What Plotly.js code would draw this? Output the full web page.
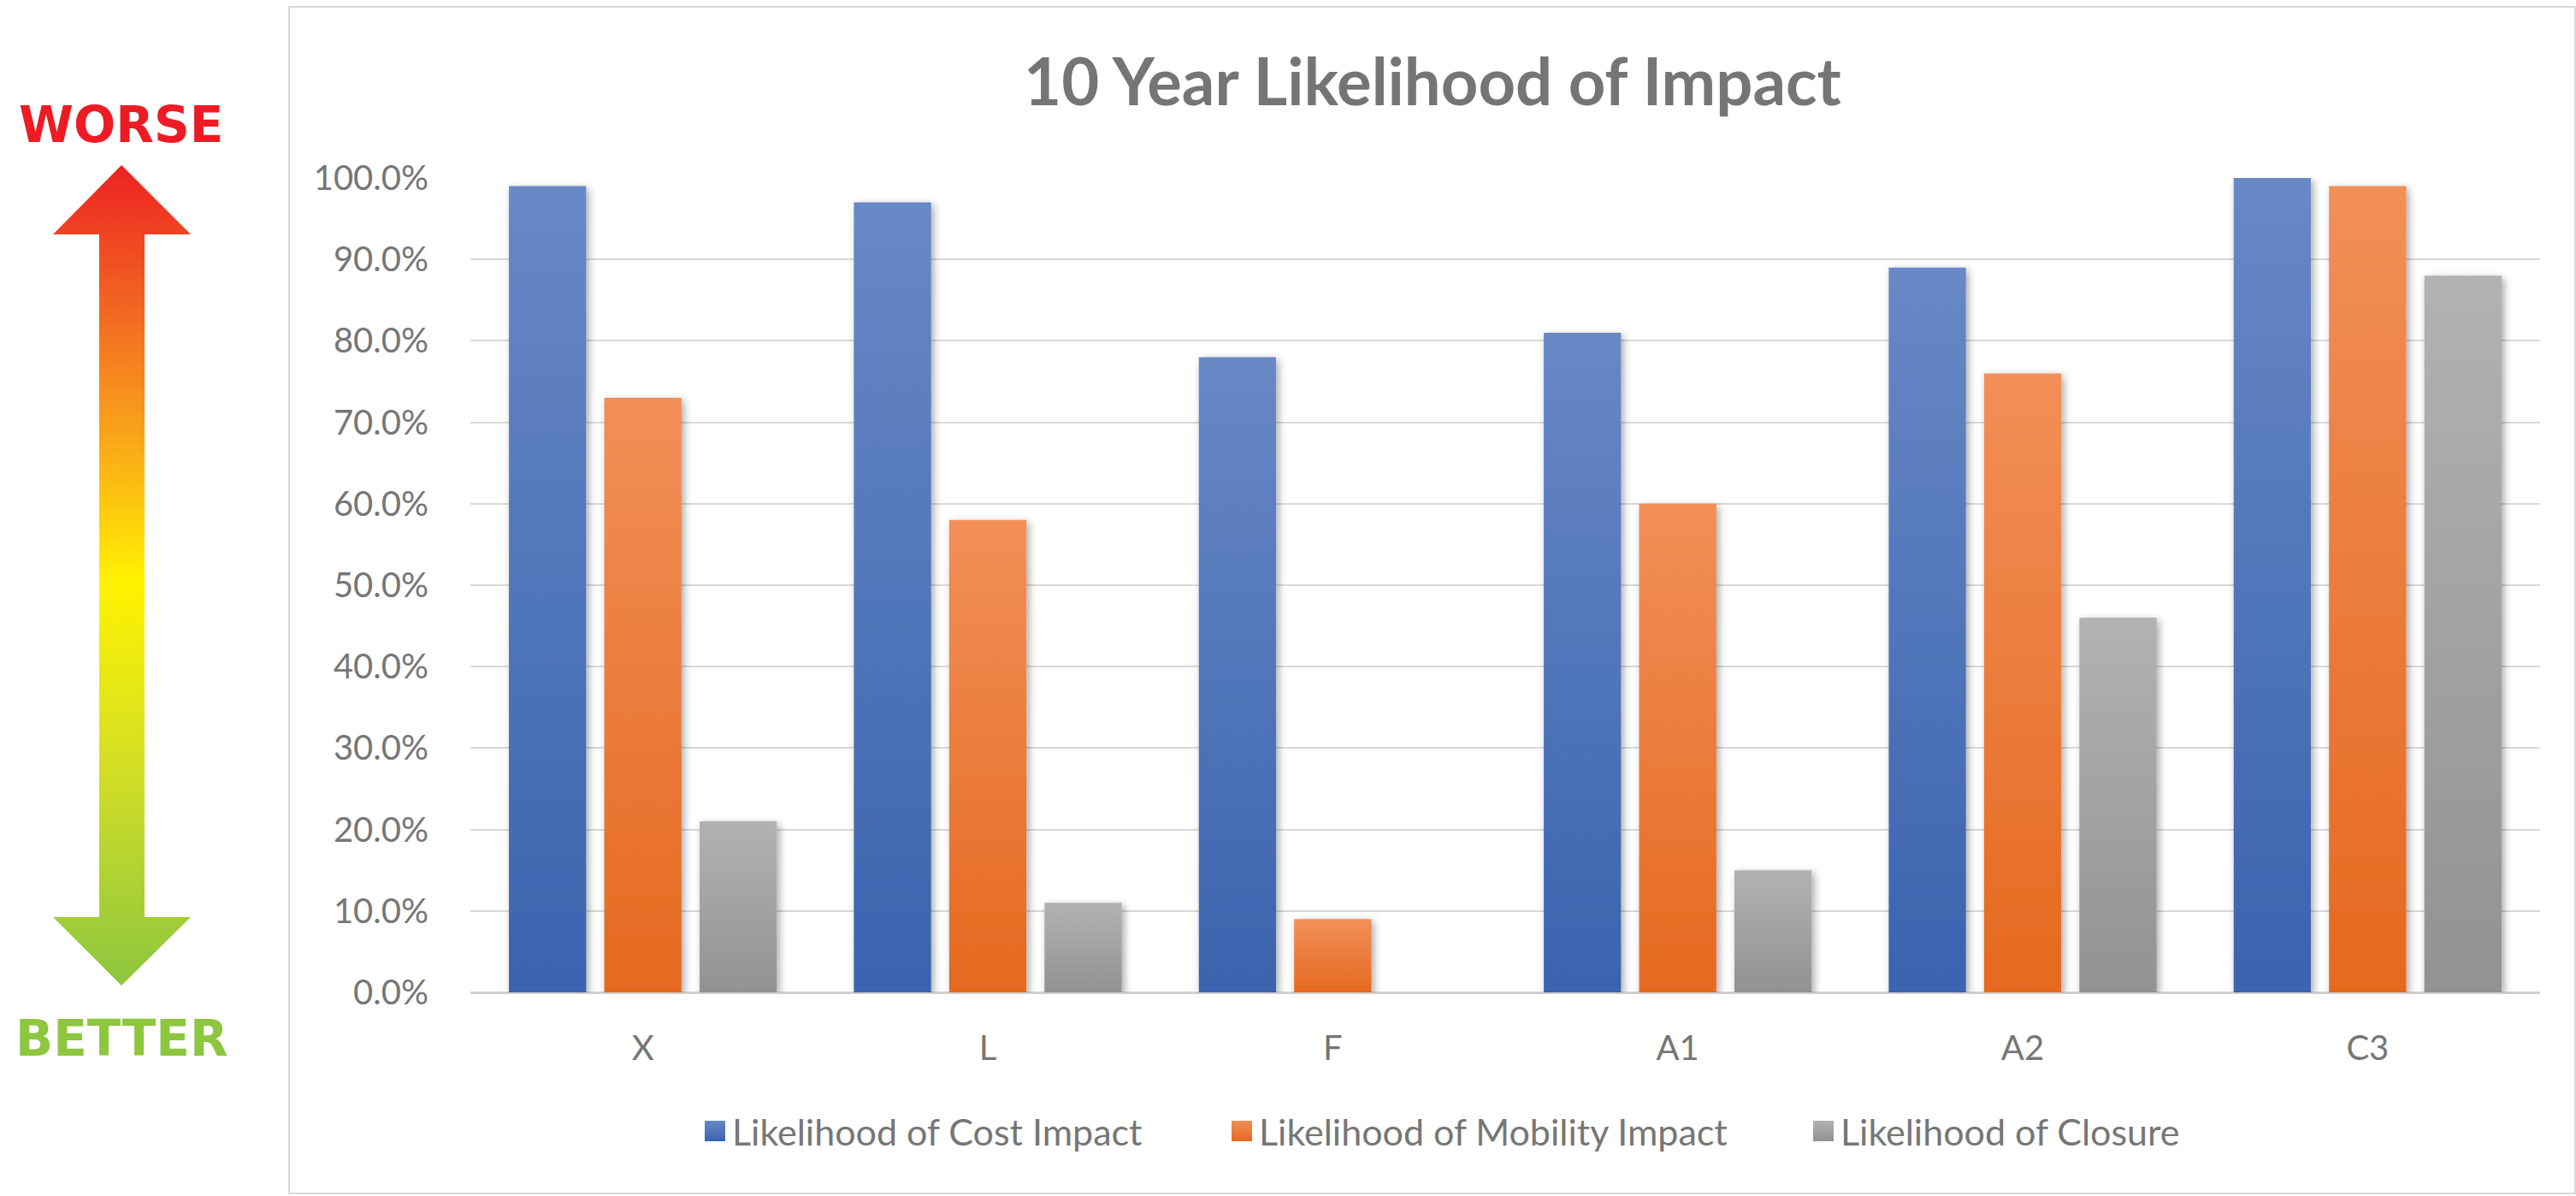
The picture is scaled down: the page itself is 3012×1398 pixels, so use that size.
<!DOCTYPE html>
<html>
<head>
<meta charset="utf-8">
<script src="https://cdn.plot.ly/plotly-3.0.1.min.js"></script>
<style>
  html, body { margin: 0; padding: 0; background: #ffffff; }
  #chart { width: 3012px; height: 1398px; }
</style>
</head>
<body>
<div id="chart"></div>
<script>
// ---- Data ----
const categories = ['X', 'L', 'F', 'A1', 'A2', 'C3'];
const seriesNames = ['Likelihood of Cost Impact', 'Likelihood of Mobility Impact', 'Likelihood of Closure'];
const costImpact = [0.99, 0.97, 0.78, 0.81, 0.89, 1.00];
const mobilityImpact = [0.73, 0.58, 0.09, 0.60, 0.76, 0.99];
const closure = [0.21, 0.11, 0.00, 0.15, 0.46, 0.88];
const yTickValues = [0, 0.1, 0.2, 0.3, 0.4, 0.5, 0.6, 0.7, 0.8, 0.9, 1.0];
const chartTitle = '10 Year Likelihood of Impact';
const scaleTop = 'WORSE';
const scaleBottom = 'BETTER';

// ---- Styling ----
const W = 3012, H = 1398;
const M = { l: 550, r: 42, t: 208, b: 238 };
const plotW = W - M.l - M.r, plotH = H - M.t - M.b;
const px2x = p => (p - M.l) / plotW;
const px2y = p => (H - M.b - p) / plotH;
const textGray = '#767676';
const baseFont = 'Lato, "Open Sans", sans-serif';
const solid = ['#5575ba', '#ee7b3a', '#a2a2a2'];
const grads = [
  ['#6888c6', '#3a63ae'],
  ['#f28f58', '#e5691f'],
  ['#b2b2b2', '#929292']
];
const legendIds = ['legend', 'legend2', 'legend3'];
const legendMarkerCenters = [836, 1452, 2132];

const seriesValues = [costImpact, mobilityImpact, closure];
const traces = seriesValues.map((vals, i) => ({
  type: 'bar',
  name: seriesNames[i],
  x: categories,
  y: vals,
  legend: legendIds[i],
  marker: { color: solid[i], line: { width: 0 } },
  hoverinfo: 'skip'
}));

// Arrow drawn as an SVG decoration (gradient), placed over the left margin
const arrowSvg =
  '<svg xmlns="http://www.w3.org/2000/svg" width="' + W + '" height="' + H + '" viewBox="0 0 ' + W + ' ' + H + '">' +
  '<defs><linearGradient id="ag" x1="0" y1="193" x2="0" y2="1152" gradientUnits="userSpaceOnUse">' +
  '<stop offset="0" stop-color="#ed2224"/>' +
  '<stop offset="0.2" stop-color="#f37021"/>' +
  '<stop offset="0.36" stop-color="#fbb117"/>' +
  '<stop offset="0.51" stop-color="#fff200"/>' +
  '<stop offset="0.74" stop-color="#d2de26"/>' +
  '<stop offset="1" stop-color="#8cc63f"/>' +
  '</linearGradient></defs>' +
  '<path d="M142 193 L223 274 L169 274 L169 1072 L223 1072 L142 1152 L62 1072 L116 1072 L116 274 L62 274 Z" fill="url(#ag)"/>' +
  '</svg>';
const arrowSrc = 'data:image/svg+xml;charset=utf-8,' + encodeURIComponent(arrowSvg);

function legendCfg(i) {
  return {
    orientation: 'h',
    x: px2x(legendMarkerCenters[i] - 20), xanchor: 'left',
    y: px2y(1322), yanchor: 'middle',
    font: { family: baseFont, size: 43, color: textGray },
    bgcolor: 'rgba(0,0,0,0)',
    borderwidth: 0
  };
}

const layout = {
  width: W,
  height: H,
  margin: M,
  paper_bgcolor: '#ffffff',
  plot_bgcolor: '#ffffff',
  font: { family: baseFont, color: textGray, size: 40 },
  title: {
    text: '<b>' + chartTitle + '</b>',
    font: { family: baseFont, size: 76, color: '#757575' },
    xref: 'paper', x: px2x(1675), xanchor: 'center',
    yref: 'container', y: 1 - 96 / H, yanchor: 'middle'
  },
  barmode: 'group',
  bargap: 0.171,
  bargroupgap: 0.19,
  showlegend: true,
  legend: legendCfg(0),
  legend2: legendCfg(1),
  legend3: legendCfg(2),
  xaxis: {
    type: 'category',
    showgrid: false,
    showline: false,
    zeroline: false,
    ticks: 'outside',
    ticklen: 30,
    tickcolor: 'rgba(0,0,0,0)',
    tickfont: { family: baseFont, size: 40, color: textGray },
    fixedrange: true
  },
  yaxis: {
    range: [0, 1],
    tickvals: yTickValues,
    tickformat: '.1%',
    showgrid: true,
    gridcolor: '#d9d9d9',
    gridwidth: 2,
    zeroline: true,
    zerolinecolor: '#d0d0d0',
    zerolinewidth: 3,
    showline: false,
    ticks: 'outside',
    ticklen: 40,
    tickcolor: 'rgba(0,0,0,0)',
    tickfont: { family: baseFont, size: 40, color: textGray },
    fixedrange: true
  },
  shapes: [
    {
      type: 'rect', xref: 'paper', yref: 'paper',
      x0: px2x(338), x1: px2x(3011), y0: px2y(1395), y1: px2y(8),
      line: { color: '#d9d9d9', width: 2 }, fillcolor: 'rgba(0,0,0,0)', layer: 'below'
    }
  ],
  images: [
    {
      source: arrowSrc,
      xref: 'paper', yref: 'paper',
      x: px2x(0), y: px2y(0),
      sizex: W / plotW, sizey: H / plotH,
      xanchor: 'left', yanchor: 'top',
      sizing: 'stretch', layer: 'above'
    }
  ],
  annotations: [
    {
      text: '<b>' + scaleTop + '</b>', xref: 'paper', yref: 'paper',
      x: px2x(141), y: px2y(146), xanchor: 'center', yanchor: 'middle',
      showarrow: false, font: { family: '"DejaVu Sans", sans-serif', size: 58, color: '#ed1c24' }
    },
    {
      text: '<b>' + scaleBottom + '</b>', xref: 'paper', yref: 'paper',
      x: px2x(142), y: px2y(1214), xanchor: 'center', yanchor: 'middle',
      showarrow: false, font: { family: '"DejaVu Sans", sans-serif', size: 58, color: '#8dc63f' }
    }
  ]
};

Plotly.newPlot('chart', traces, layout, { staticPlot: true, displayModeBar: false }).then(gd => {
  // Give the bars the vertical gradient and soft shadow of the original
  const NS = 'http://www.w3.org/2000/svg';
  const svg = gd.querySelector('svg.main-svg');
  let defs = svg.querySelector('defs');
  if (!defs) { defs = document.createElementNS(NS, 'defs'); svg.insertBefore(defs, svg.firstChild); }
  grads.forEach((g, i) => {
    const lg = document.createElementNS(NS, 'linearGradient');
    lg.setAttribute('id', 'barg' + i);
    lg.setAttribute('x1', '0'); lg.setAttribute('y1', '0');
    lg.setAttribute('x2', '0'); lg.setAttribute('y2', '1');
    [[0, g[0]], [1, g[1]]].forEach(([o, c]) => {
      const s = document.createElementNS(NS, 'stop');
      s.setAttribute('offset', o); s.setAttribute('stop-color', c);
      lg.appendChild(s);
    });
    defs.appendChild(lg);
  });
  const f = document.createElementNS(NS, 'filter');
  f.setAttribute('id', 'barshadow');
  f.setAttribute('x', '-30%'); f.setAttribute('y', '-10%');
  f.setAttribute('width', '160%'); f.setAttribute('height', '120%');
  const ds = document.createElementNS(NS, 'feDropShadow');
  ds.setAttribute('dx', '3'); ds.setAttribute('dy', '3');
  ds.setAttribute('stdDeviation', '5');
  ds.setAttribute('flood-color', '#000'); ds.setAttribute('flood-opacity', '0.35');
  f.appendChild(ds);
  defs.appendChild(f);

  gd.querySelectorAll('.barlayer .trace').forEach((t, i) => {
    t.querySelectorAll('path').forEach(p => {
      p.style.fill = 'url(#barg' + i + ')';
      p.style.filter = 'url(#barshadow)';
    });
  });
  // legend symbols: larger squares with the same gradient
  legendIds.forEach((id, i) => {
    gd.querySelectorAll('.' + id + ' .legendpoints path, g.' + id + ' .legendpoints path').forEach(p => {
      p.style.fill = 'url(#barg' + i + ')';
      const tr = p.getAttribute('transform') || '';
      p.setAttribute('transform', tr + ' scale(2)');
    });
  });
});
</script>
</body>
</html>
